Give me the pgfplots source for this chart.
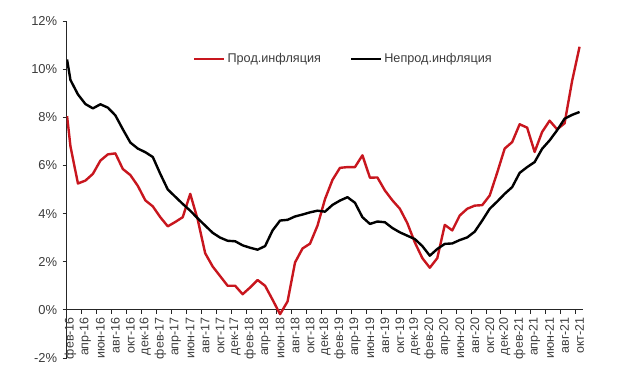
\documentclass[border=0pt]{standalone}
\usepackage{fontspec}
\setmainfont{Liberation Sans}
\usepackage{pgfplots}
\pgfplotsset{compat=1.18}
\usepackage{pgfplotstable}
\definecolor{cred}{RGB}{200,22,30}
\definecolor{lbl}{RGB}{60,60,60}
\pgfplotstableread{
m food nonfood
-0.45 8.05 10.4
0 6.8 9.55
1 5.25 8.95
2 5.37 8.55
3 5.65 8.37
4 6.2 8.54
5 6.46 8.4
6 6.5 8.08
7 5.85 7.5
8 5.6 6.95
9 5.15 6.7
10 4.55 6.55
11 4.3 6.35
12 3.85 5.65
13 3.47 5.0
14 3.65 4.7
15 3.85 4.4
16 4.82 4.12
17 3.75 3.8
18 2.35 3.5
19 1.8 3.2
20 1.4 3.0
21 1.0 2.87
22 1.0 2.85
23 0.65 2.68
24 0.93 2.58
25 1.24 2.5
26 1.0 2.65
27 0.42 3.3
28 -0.18 3.71
29 0.35 3.74
30 1.97 3.88
31 2.55 3.96
32 2.75 4.05
33 3.5 4.12
34 4.6 4.08
35 5.4 4.36
36 5.9 4.54
37 5.93 4.68
38 5.93 4.45
39 6.42 3.85
40 5.49 3.57
41 5.5 3.67
42 4.96 3.64
43 4.55 3.4
44 4.2 3.22
45 3.6 3.08
46 2.8 2.94
47 2.15 2.65
48 1.75 2.25
49 2.15 2.53
50 3.53 2.74
51 3.3 2.76
52 3.92 2.9
53 4.2 3.01
54 4.33 3.25
55 4.35 3.71
56 4.75 4.2
57 5.7 4.5
58 6.7 4.82
59 6.97 5.1
60 7.71 5.69
61 7.57 5.93
62 6.56 6.14
63 7.39 6.69
64 7.86 7.04
65 7.5 7.46
66 7.75 7.94
67 9.5 8.1
68 10.93 8.22
}\data
\begin{document}
\begin{tikzpicture}
\begin{axis}[
  scale only axis, width=516.6bp, height=337bp,
  xmin=-0.5, xmax=68.5, ymin=-2, ymax=12,
  axis x line=middle, axis y line=left,
  axis line style={-, line width=1.1bp, black!85},
  hide obscured x ticks=false, hide obscured y ticks=false,
  tick align=outside,
  major tick length=4bp,
  tick style={line width=0.9bp, black!85},
  ytick={-2,0,2,4,6,8,10,12},
  yticklabels={-2\%,0\%,2\%,4\%,6\%,8\%,10\%,12\%},
  yticklabel style={font=\fontsize{13}{15}\selectfont, text=lbl, xshift=-2bp},
  xtick={0,2,...,68},
  xticklabels={фев-16,апр-16,июн-16,авг-16,окт-16,дек-16,
    фев-17,апр-17,июн-17,авг-17,окт-17,дек-17,
    фев-18,апр-18,июн-18,авг-18,окт-18,дек-18,
    фев-19,апр-19,июн-19,авг-19,окт-19,дек-19,
    фев-20,апр-20,июн-20,авг-20,окт-20,дек-20,
    фев-21,апр-21,июн-21,авг-21,окт-21},
  xticklabel style={font=\fontsize{12.5}{14}\selectfont, text=lbl, rotate=90, anchor=east},
  xtick style={draw=none},
  extra x ticks={-0.5,1.5,...,67.5},
  extra x tick labels={},
  extra x tick style={xtick style={draw=black!85}},
  legend style={at={(0.2445,0.887)}, anchor=west, draw=none, fill=none,
    inner sep=0pt, font=\fontsize{12.7}{15}\selectfont, text=lbl,
    /tikz/every even column/.append style={column sep=27bp}},
  legend columns=2,
  legend image code/.code={\draw[#1] (0bp,0bp) -- (30bp,0bp);},
]
\addplot[cred, line width=2.4bp, line join=round] table[x=m, y=food] {\data};
\addlegendentry{Прод.инфляция}
\addplot[black, line width=2.4bp, line join=round] table[x=m, y=nonfood] {\data};
\addlegendentry{Непрод.инфляция}
\end{axis}
\pgfresetboundingbox
\path[use as bounding box] ([xshift=-66.7bp,yshift=-19bp]current axis.south west) rectangle ++(620bp,377bp);
\end{tikzpicture}
\end{document}
